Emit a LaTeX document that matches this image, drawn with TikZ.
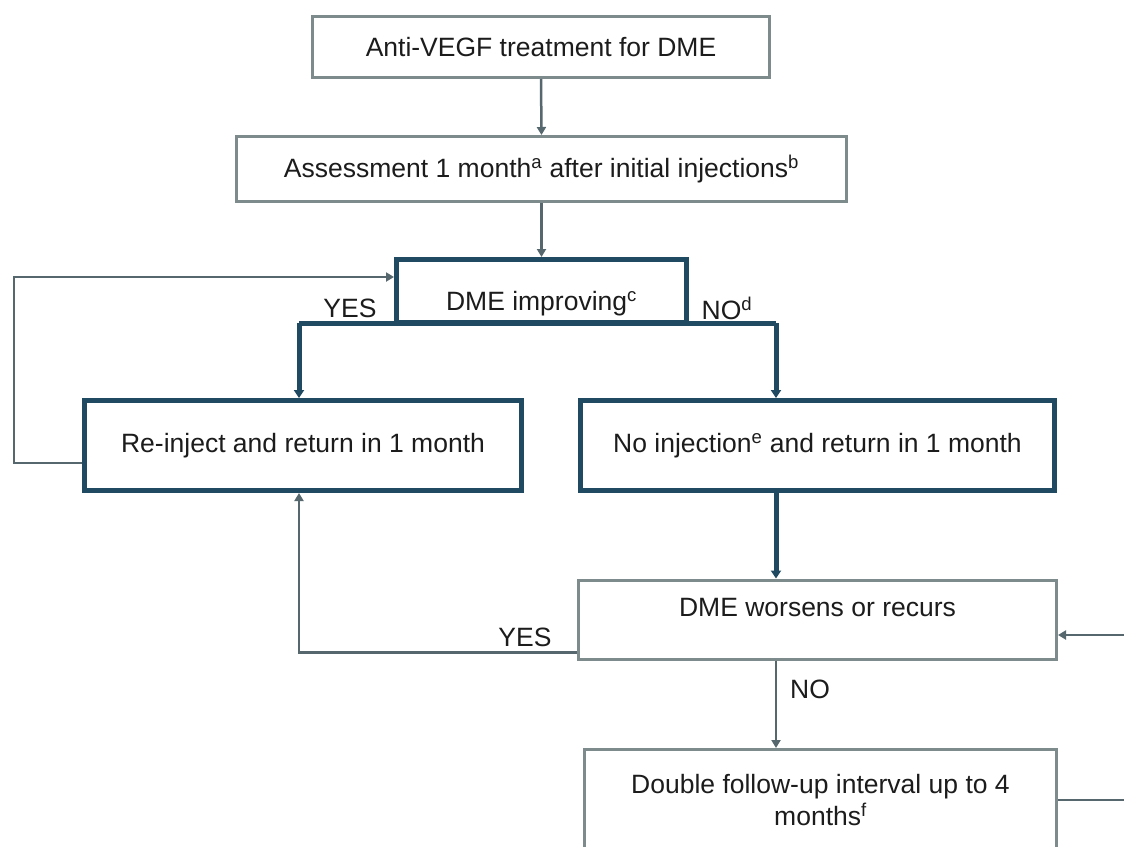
\documentclass[tikz,border=0pt]{standalone}
\usepackage{fontspec}
\setmainfont{Liberation Sans}
\usetikzlibrary{arrows.meta}
\definecolor{thk}{HTML}{1F4A62}
\definecolor{gry}{HTML}{7D8B8D}
\definecolor{lnk}{HTML}{56686E}
\definecolor{txt}{HTML}{1C1C1C}
\begin{document}
\begin{tikzpicture}[x=1pt,y=-1pt,
  font=\fontsize{26.5}{32}\selectfont,
  thinbox/.style={draw=gry, line width=3pt, fill=white, inner sep=0pt, align=center, text=txt},
  thickbox/.style={draw=thk, line width=5pt, fill=white, inner sep=0pt, align=center, text=txt},
  arr/.style={draw=lnk, line width=2.5pt, -{Triangle[width=9pt,length=8pt]}},
  thkarr/.style={draw=thk, line width=5pt, -{Triangle[width=10pt,length=8pt]}},
  thkline/.style={draw=thk, line width=5pt},
  lbl/.style={text=txt, inner sep=0pt}]
\useasboundingbox (0,0) rectangle (1124,846);
\fill[white] (0,0) rectangle (1124,846);

\node[thinbox, minimum width=457pt, minimum height=61pt] (b1) at (541,47) {Anti-VEGF treatment for DME};
\node[thinbox, minimum width=610pt, minimum height=65pt] (b2) at (541.5,169) {Assessment 1 month\textsuperscript{a} after initial injections\textsuperscript{b}};
\node[thickbox, minimum width=290pt, minimum height=63pt, text height=40pt, text depth=1pt] (b3) at (541.5,291) {DME improving\textsuperscript{c}};
\node[thickbox, minimum width=437pt, minimum height=90pt] (b4) at (303,445.5) {Re-inject and return in 1 month};
\node[thickbox, minimum width=474pt, minimum height=90pt] (b5) at (817.5,445.5) {No injection\textsuperscript{e} and return in 1 month};
\node[thinbox, minimum width=478pt, minimum height=79pt, text height=10pt, text depth=16pt] (b6) at (817.5,619.5) {DME worsens or recurs};
\node[thinbox, minimum width=472pt, minimum height=101pt] (b7) at (820.5,800) {Double follow-up interval up to 4\\months\textsuperscript{f}};

\node[lbl] (yes1) at (350,308) {YES};
\node[lbl] (no1) at (727,308) {NO\textsuperscript{d}};
\node[lbl] (yes2) at (525,637) {YES};
\node[lbl] (no2) at (810,689) {NO};

\coordinate (yc) at (299,323);
\coordinate (nc) at (776,323);
\coordinate (lt) at (14,277);
\coordinate (rx) at (1160,0);

\draw[arr] (b1.south) -- (b2.north);
\draw[arr] (b2.south) -- (b3.north);
\draw[thkline] (yc) -- (nc);
\draw[thkarr] (yc) -- (yc |- b4.north);
\draw[thkarr] (nc) -- (nc |- b5.north);
\draw[thkarr] (b5.south -| nc) -- (b6.north -| nc);
\draw[arr] (b6.south -| nc) -- (b7.north -| nc);
\draw[arr] ([yshift=8pt]b6.south west) -| (b4.south -| yc);
\draw[arr] ([yshift=-17.5pt]b4.west) -| (lt) -- ([yshift=14pt]b3.west);
\draw[arr] (b7.east) -- (b7.east -| rx) |- ([yshift=-15.5pt]b6.east);
\end{tikzpicture}
\end{document}
